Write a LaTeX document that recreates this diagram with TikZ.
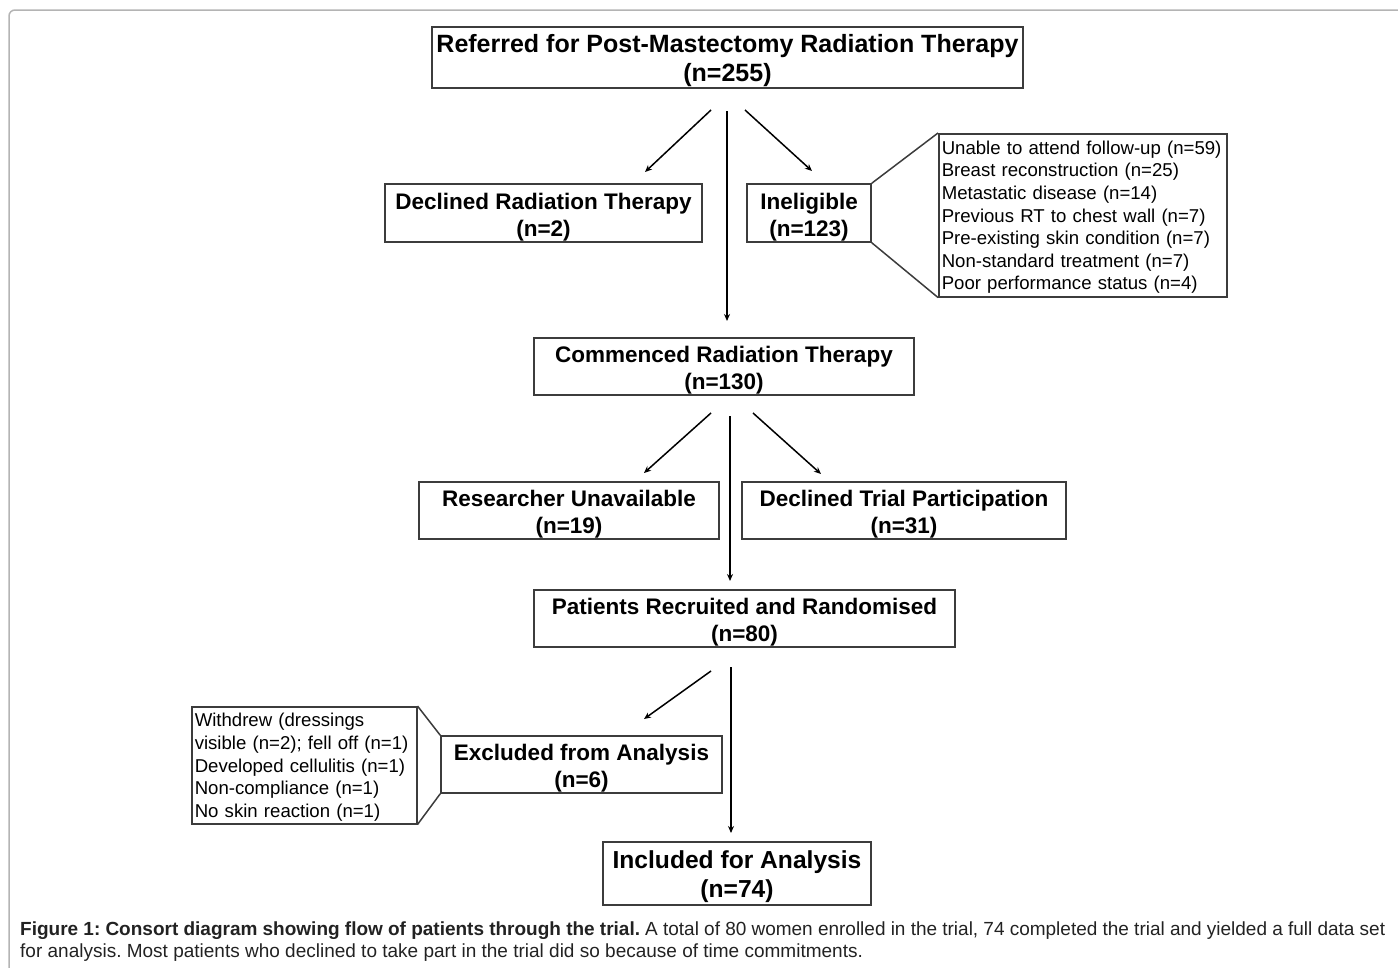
\documentclass[tikz,border=0pt]{standalone}
\usepackage{fontspec}
\setmainfont{Liberation Sans}
\usetikzlibrary{arrows.meta}
\definecolor{boxline}{HTML}{3C3C3C}
\definecolor{framec}{HTML}{B4B4B4}
\definecolor{captxt}{HTML}{222222}
\tikzset{
  flowbox/.style={draw=boxline, line width=1.5pt, inner sep=0pt, align=center,
    font=\bfseries\fontsize{22.5}{27}\selectfont, text=black,
    text height=51.5pt, text depth=4.7pt},
  bigbox/.style={flowbox, font=\bfseries\fontsize{#1}{29.5}\selectfont,
    text height=53.7pt, text depth=5.2pt},
  listbox/.style={draw=boxline, line width=1.5pt, inner xsep=3pt, inner ysep=0pt,
    align=left, anchor=north west, font=\fontsize{18.6}{22.6}\selectfont, text=black},
  flowarrow/.style={line width=1.5pt, -{Stealth[length=7pt,width=6pt]}},
  pointer/.style={draw=boxline, line width=1.5pt},
}
\begin{document}
\begin{tikzpicture}[x=1pt, y=-1pt]
\useasboundingbox (0,0) rectangle (1398,967);
% outer frame
\draw[framec, line width=1.5pt, rounded corners=6pt] (9,1000) -- (9,10) -- (1420,10);

% boxes
\node[bigbox=25, minimum width=591, minimum height=61] (ref) at (727.5,57.5)
  {Referred for Post-Mastectomy Radiation Therapy\\(n=255)};
\node[flowbox, minimum width=317, minimum height=58] (decl) at (543.5,213)
  {Declined Radiation Therapy\\(n=2)};
\node[flowbox, minimum width=124, minimum height=58] (inel) at (809,213)
  {Ineligible\\(n=123)};
\node[listbox, text width=282, minimum height=163, text height=15.6pt, text depth=137.5pt] (inlist) at (938,133)
  {Unable to attend follow-up (n=59)\\
   Breast reconstruction (n=25)\\
   Metastatic disease (n=14)\\
   Previous RT to chest wall (n=7)\\
   Pre-existing skin condition (n=7)\\
   Non-standard treatment (n=7)\\
   Poor performance status (n=4)};
\node[flowbox, minimum width=380, minimum height=57] (comm) at (724,366.5)
  {Commenced Radiation Therapy\\(n=130)};
\node[flowbox, minimum width=300, minimum height=57] (resu) at (569,510.5)
  {Researcher Unavailable\\(n=19)};
\node[flowbox, minimum width=324, minimum height=57] (dtp) at (904,510.5)
  {Declined Trial Participation\\(n=31)};
\node[flowbox, minimum width=421, minimum height=57] (recr) at (744.5,618.5)
  {Patients Recruited and Randomised\\(n=80)};
\node[flowbox, minimum width=281, minimum height=57] (excl) at (581.5,764.5)
  {Excluded from Analysis\\(n=6)};
\node[listbox, text width=219, minimum height=117, text height=15.6pt, text depth=92.3pt] (wlist) at (191,706)
  {Withdrew (dressings\\
   visible (n=2); fell off (n=1)\\
   Developed cellulitis (n=1)\\
   Non-compliance (n=1)\\
   No skin reaction (n=1)};
\node[bigbox=24.6, minimum width=268, minimum height=63] (incl) at (737,873.5)
  {Included for Analysis\\(n=74)};

% arrow coordinates
\coordinate (s1l) at (711,110); \coordinate (e1l) at (645,172);
\coordinate (s1c) at (727,111); \coordinate (e1c) at (727,321);
\coordinate (s1r) at (745,110); \coordinate (e1r) at (812,171);
\coordinate (s2l) at (711,413); \coordinate (e2l) at (644,473);
\coordinate (s2c) at (730,416); \coordinate (e2c) at (730,581);
\coordinate (s2r) at (753,413); \coordinate (e2r) at (821,474);
\coordinate (s3l) at (711,671); \coordinate (e3l) at (644,719);
\coordinate (s3c) at (731,667); \coordinate (e3c) at (731,833);

\draw[flowarrow] (s1l) -- (e1l);
\draw[flowarrow] (s1c) -- (e1c);
\draw[flowarrow] (s1r) -- (e1r);
\draw[flowarrow] (s2l) -- (e2l);
\draw[flowarrow] (s2c) -- (e2c);
\draw[flowarrow] (s2r) -- (e2r);
\draw[flowarrow] (s3l) -- (e3l);
\draw[flowarrow] (s3c) -- (e3c);

% callout pointers
\draw[pointer] (inel.north east) -- (inlist.north west);
\draw[pointer] (inel.south east) -- (inlist.south west);
\draw[pointer] (wlist.north east) -- (excl.north west);
\draw[pointer] (wlist.south east) -- (excl.south west);

% caption
\node[anchor=north west, inner sep=0pt, text width=1365, align=justify,
  text=captxt, font=\frenchspacing\fontsize{19}{22}\selectfont] (cap) at (20,922)
  {\textbf{Figure 1: Consort diagram showing flow of patients through the trial.} A total of 80 women enrolled in the trial, 74 completed the trial and yielded a full data set\linebreak for analysis. Most patients who declined to take part in the trial did so because of time commitments.};
\end{tikzpicture}
\end{document}
